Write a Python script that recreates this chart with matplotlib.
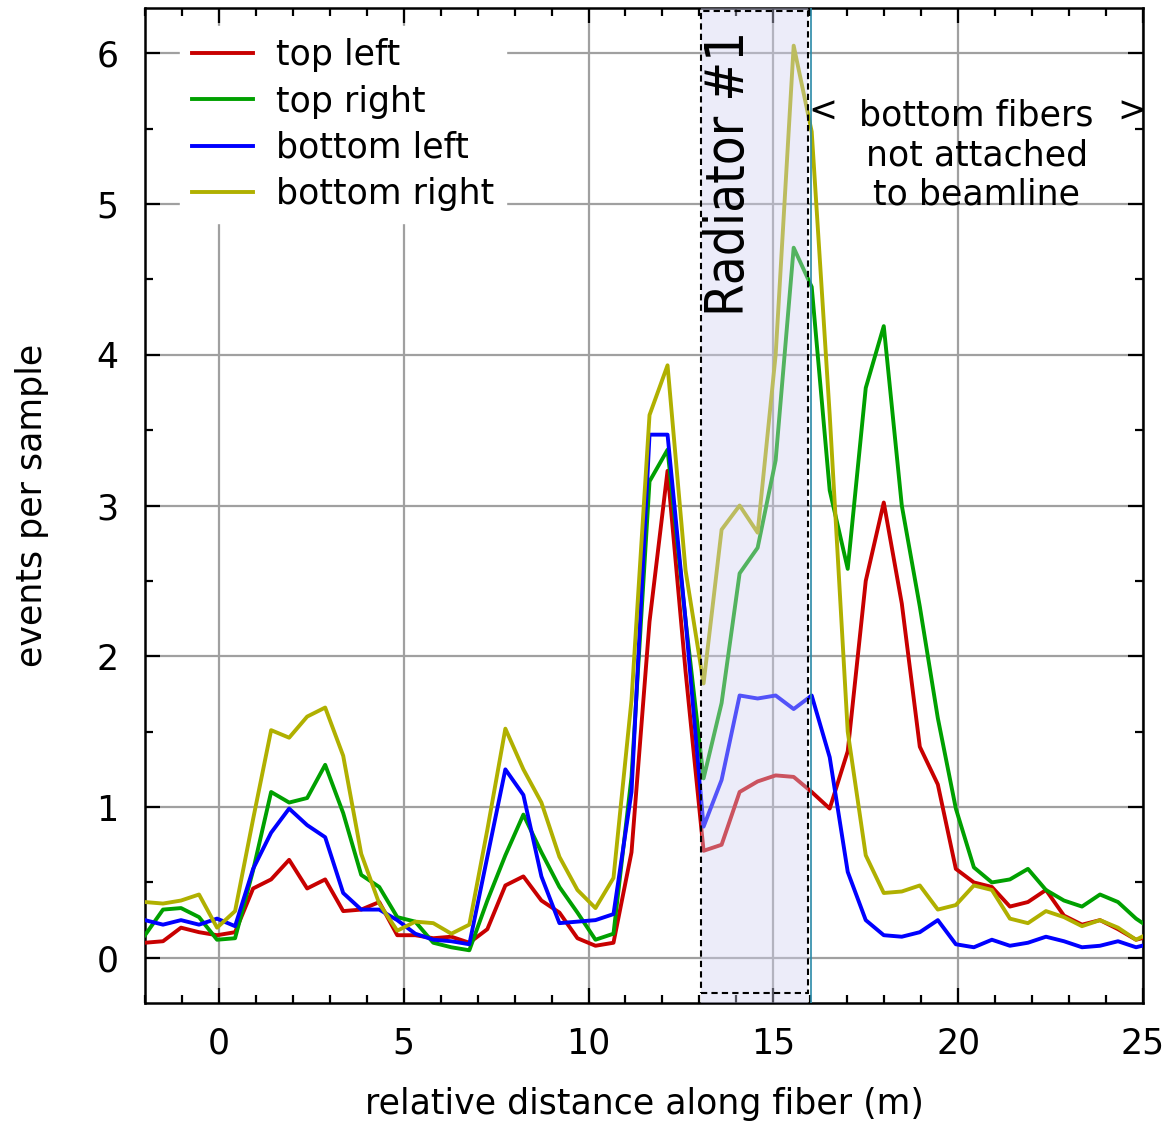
import numpy as np
import matplotlib
matplotlib.use("Agg")
import matplotlib.pyplot as plt
from matplotlib.patches import Rectangle
from matplotlib.ticker import MultipleLocator

plt.rcParams['font.family'] = ['DejaVu Sans']

# sample positions along the fiber (m), one every 0.4875 m starting at -2
x = -2 + 0.4875 * np.arange(57)

top_left = [0.10, 0.11, 0.20, 0.17, 0.15, 0.17, 0.46, 0.52, 0.65, 0.46,
            0.52, 0.31, 0.32, 0.37, 0.15, 0.15, 0.13, 0.14, 0.10, 0.19,
            0.48, 0.54, 0.38, 0.30, 0.13, 0.08, 0.10, 0.70, 2.23, 3.23,
            1.90, 0.71, 0.75, 1.10, 1.17, 1.21, 1.20, 1.10, 0.99, 1.37,
            2.50, 3.02, 2.35, 1.40, 1.15, 0.59, 0.50, 0.47, 0.34, 0.37,
            0.45, 0.28, 0.22, 0.25, 0.19, 0.12, 0.15]
top_right = [0.15, 0.32, 0.33, 0.27, 0.12, 0.13, 0.58, 1.10, 1.03, 1.06,
             1.28, 0.96, 0.55, 0.47, 0.27, 0.24, 0.10, 0.07, 0.05, 0.38,
             0.68, 0.95, 0.70, 0.47, 0.30, 0.12, 0.16, 1.20, 3.16, 3.37,
             2.24, 1.19, 1.69, 2.55, 2.72, 3.30, 4.71, 4.45, 3.10, 2.58,
             3.78, 4.19, 3.00, 2.33, 1.59, 0.99, 0.60, 0.50, 0.52, 0.59,
             0.45, 0.38, 0.34, 0.42, 0.37, 0.26, 0.18]
bottom_left = [0.25, 0.22, 0.25, 0.22, 0.26, 0.21, 0.59, 0.83, 0.99, 0.88,
               0.80, 0.43, 0.32, 0.32, 0.25, 0.16, 0.12, 0.11, 0.09, 0.67,
               1.25, 1.08, 0.54, 0.23, 0.24, 0.25, 0.29, 1.10, 3.47, 3.47,
               2.24, 0.87, 1.18, 1.74, 1.72, 1.74, 1.65, 1.74, 1.33, 0.57,
               0.25, 0.15, 0.14, 0.17, 0.25, 0.09, 0.07, 0.12, 0.08, 0.10,
               0.14, 0.11, 0.07, 0.08, 0.11, 0.07, 0.10]
bottom_right = [0.37, 0.36, 0.38, 0.42, 0.20, 0.31, 0.92, 1.51, 1.46, 1.60,
                1.66, 1.34, 0.69, 0.36, 0.18, 0.24, 0.23, 0.16, 0.22, 0.85,
                1.52, 1.25, 1.03, 0.67, 0.45, 0.33, 0.53, 1.71, 3.60, 3.93,
                2.57, 1.82, 2.84, 3.00, 2.82, 4.00, 6.05, 5.48, 3.60, 1.50,
                0.68, 0.43, 0.44, 0.48, 0.32, 0.35, 0.48, 0.45, 0.26, 0.23,
                0.31, 0.27, 0.21, 0.25, 0.20, 0.12, 0.18]

series = [("top left", top_left, "#c80000"),
          ("top right", top_right, "#00a000"),
          ("bottom left", bottom_left, "#0000ff"),
          ("bottom right", bottom_right, "#b0b000")]

radiator = (13.05, 15.93)
fs = 25

fig = plt.figure(figsize=(11.73, 11.24), dpi=100)
ax = fig.add_axes([0.1236, 0.1076, 0.8508, 0.8853])

for name, vals, col in series:
    ax.plot(x, vals, color=col, lw=2.8, label=name, zorder=3)

# radiator region: translucent shade over the curves plus dashed frame
ax.axvspan(radiator[0], radiator[1], ymin=0, ymax=1, color="#d0d0f0",
           alpha=0.4, lw=0, zorder=4)
ax.add_patch(Rectangle((radiator[0], -0.23), radiator[1] - radiator[0], 6.51,
                       fill=False, ls=(0, (3, 2)), lw=1.5, ec="black", zorder=5))
ax.axvline(16.03, color="#2a8aa8", lw=1.2, zorder=5)

ax.text(13.8, 6.15, "Radiator #1", rotation=90, ha="center", va="top",
        fontsize=38, fontstretch="condensed", zorder=6)

ax.text(20.5, 5.59, "bottom fibers", ha="center", va="center", fontsize=fs)
ax.text(20.5, 5.32, "not attached", ha="center", va="center", fontsize=fs)
ax.text(20.5, 5.06, "to beamline", ha="center", va="center", fontsize=fs)
ax.text(16.35, 5.61, "<", ha="center", va="center", fontsize=fs)
ax.text(24.7, 5.61, ">", ha="center", va="center", fontsize=fs)

ax.set_xlim(-2, 25)
ax.set_ylim(-0.3, 6.3)
ax.xaxis.set_major_locator(MultipleLocator(5))
ax.xaxis.set_minor_locator(MultipleLocator(1))
ax.yaxis.set_major_locator(MultipleLocator(1))
ax.yaxis.set_minor_locator(MultipleLocator(0.5))
ax.grid(True, which="major", color="#a0a0a0", lw=1.6, zorder=1)
ax.set_axisbelow(True)
ax.tick_params(which="both", direction="in", top=True, right=True,
               width=1.6, labelsize=fs)
ax.tick_params(which="major", length=11)
ax.tick_params(axis="x", which="major", pad=17)
ax.tick_params(axis="y", which="major", pad=19)
ax.tick_params(which="minor", length=6)
for s in ax.spines.values():
    s.set_linewidth(1.8)

ax.set_xlabel("relative distance along fiber (m)", fontsize=fs, labelpad=19)
ax.set_ylabel("events per sample", fontsize=fs, labelpad=34)

leg = ax.legend(loc="upper left", bbox_to_anchor=(0.018, 0.999), fontsize=fs,
                frameon=True, fancybox=False, edgecolor="white",
                facecolor="white", framealpha=1, handlelength=1.75,
                handletextpad=0.65, labelspacing=0.35, borderpad=0.35)
leg.set_zorder(7)

fig.savefig("out.png", dpi=100)
